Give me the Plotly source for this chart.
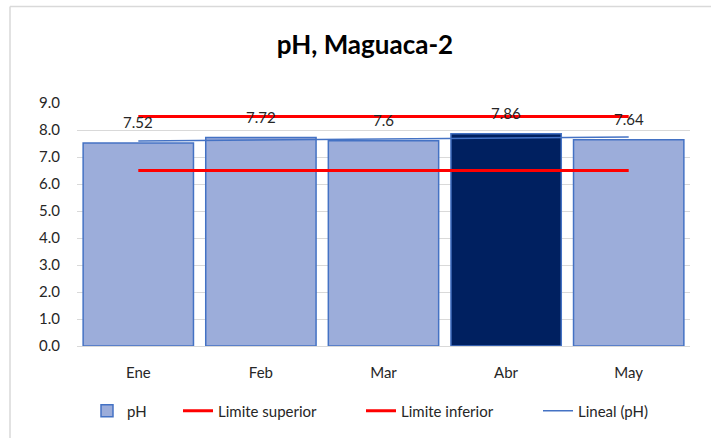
import plotly.graph_objects as go

# Monthly pH readings, Maguaca-2
months = ["Ene", "Feb", "Mar", "Abr", "May"]
ph_values = [7.52, 7.72, 7.6, 7.86, 7.64]
upper_limit = [8.5, 8.5, 8.5, 8.5, 8.5]
lower_limit = [6.5, 6.5, 6.5, 6.5, 6.5]
y_ticks = [0, 1, 2, 3, 4, 5, 6, 7, 8, 9]

W, H = 711, 438
ML, MR, MT, MB = 77, 21, 103, 91

# Linear trend (least squares) of pH over month index
n = len(ph_values)
xs = list(range(n))
mx = sum(xs) / n
my = sum(ph_values) / n
slope = sum((x - mx) * (y - my) for x, y in zip(xs, ph_values)) / sum((x - mx) ** 2 for x in xs)
trend = [my + slope * (x - mx) for x in xs]

FONT = "Lato, 'Open Sans', sans-serif"
TXT = "#262626"

pw = W - ML - MR
ph = H - MT - MB
def px_x(p):
    return (p - ML) / pw
def px_y(p):
    return (H - MB - p) / ph

bar_colors = ["#9cadda"] * n
bar_colors[3] = "#002060"

fig = go.Figure()
fig.add_trace(go.Bar(
    x=months, y=ph_values, name="pH", legend="legend",
    marker=dict(color=bar_colors, line=dict(color="#4472c4", width=1.5)),
))
fig.add_trace(go.Scatter(
    x=months, y=upper_limit, name="Limite superior", mode="lines", legend="legend2",
    line=dict(color="#ff0000", width=3),
))
fig.add_trace(go.Scatter(
    x=months, y=lower_limit, name="Limite inferior", mode="lines", legend="legend3",
    line=dict(color="#ff0000", width=3),
))
fig.add_trace(go.Scatter(
    x=months, y=trend, name="Lineal (pH)", mode="lines", legend="legend4",
    line=dict(color="#4472c4", width=1.5),
))

# Value labels above each bar
for m, v in zip(months, ph_values):
    fig.add_annotation(
        x=m, y=v, text=f"{v:g}", showarrow=False,
        yanchor="middle", yshift=21,
        font=dict(family=FONT, size=15, color=TXT),
    )

# Chart-area frame
frame = dict(color="#d9d9d9", width=1.5)
fig.add_shape(type="line", xref="paper", yref="paper",
              x0=px_x(10), x1=px_x(10), y0=px_y(6), y1=px_y(H + 20), line=frame)
fig.add_shape(type="line", xref="paper", yref="paper",
              x0=px_x(10), x1=px_x(W + 20), y0=px_y(6), y1=px_y(6), line=frame)

def legend_at(left_px):
    return dict(
        orientation="h", x=px_x(left_px), xanchor="left",
        y=px_y(411), yanchor="middle",
        font=dict(family=FONT, size=15, color=TXT),
        bgcolor="rgba(0,0,0,0)",
    )

fig.update_layout(
    width=W, height=H,
    margin=dict(l=ML, r=MR, t=MT, b=MB),
    paper_bgcolor="white", plot_bgcolor="white",
    bargap=0.1,
    font=dict(family=FONT, size=15, color=TXT),
    title=dict(
        text="<b>pH, Maguaca-2</b>",
        x=px_x(365), xref="paper", xanchor="center",
        y=1 - 45 / H, yref="container", yanchor="middle",
        font=dict(family=FONT, size=26, color="#000000"),
    ),
    xaxis=dict(
        showgrid=False, showline=False, zeroline=False,
        ticks="", ticklabelstandoff=16,
        tickfont=dict(size=15, color=TXT),
    ),
    yaxis=dict(
        range=[0, 9], tickvals=y_ticks, tickformat=".1f",
        showgrid=True, gridcolor="#d9d9d9", gridwidth=1,
        zeroline=True, zerolinecolor="#d9d9d9", zerolinewidth=1,
        showline=False, ticks="", ticklabelstandoff=16,
        tickfont=dict(size=15, color=TXT),
    ),
    legend=legend_at(87),
    legend2=legend_at(178),
    legend3=legend_at(361),
    legend4=legend_at(538),
    showlegend=True,
)

fig.write_html("out.html")
